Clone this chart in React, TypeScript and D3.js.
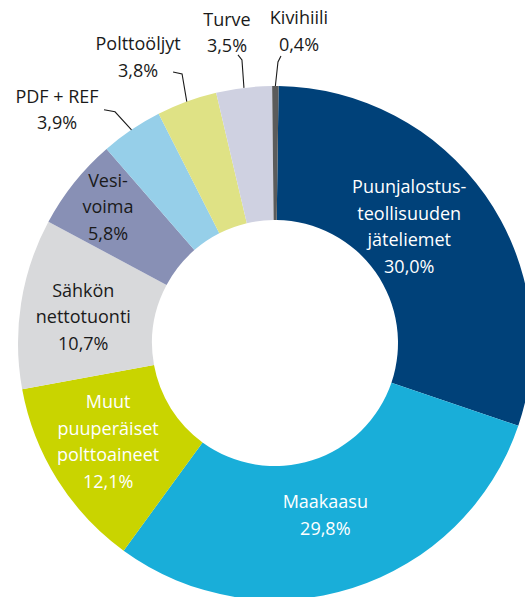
import React from "react";
import * as d3 from "d3";

const categories = [
  "Puunjalostusteollisuuden jäteliemet",
  "Maakaasu",
  "Muut puuperäiset polttoaineet",
  "Sähkön nettotuonti",
  "Vesivoima",
  "PDF + REF",
  "Polttoöljyt",
  "Turve",
  "Kivihiili",
];
const values = [30.0, 29.8, 12.1, 10.7, 5.8, 3.9, 3.8, 3.5, 0.4];
const labelLines = [
  ["Puunjalostus-", "teollisuuden", "jäteliemet"],
  ["Maakaasu"],
  ["Muut", "puuperäiset", "polttoaineet"],
  ["Sähkön", "nettotuonti"],
  ["Vesi-", "voima"],
  ["PDF + REF"],
  ["Polttoöljyt"],
  ["Turve"],
  ["Kivihiili"],
];
const colors = [
  "#004179",
  "#19aed9",
  "#c9d400",
  "#d8d9db",
  "#8890b5",
  "#96cfe9",
  "#dfe285",
  "#cfd1e1",
  "#5b5b5b",
];
const textColors = ["#fff", "#fff", "#fff", "#1a1a1a", "#1a1a1a", "#1a1a1a", "#1a1a1a", "#1a1a1a", "#1a1a1a"];

// layout (not data)
const W = 525;
const H = 597;
const CX = 275;
const CY = 343;
const R_OUT = 257;
const R_IN = 123;
const ANGLE_OFFSET = 0.014;
const FONT = "'Open Sans', sans-serif";
const FS = 18;
const LH = 26.5;

// inside labels: offset of text block centre from the arc centroid
const insideOffsets: Record<number, [number, number]> = {
  0: [-21, -7],
  1: [-7, -9],
  2: [-6, -2.6],
  3: [-4, 3.4],
  4: [-18.5, -17.5],
};
// outside labels: relative to outer arc point at mid angle
// [labelX, firstBaselineY, startX, startY, elbowX, elbowY]
const outsideLayout: Record<number, number[]> = {
  5: [-74.5, -27, -27.5, -20, -16.5, -18],
  6: [-48.7, -51.6, -13.7, -29.6, -4.7, -27.6],
  7: [-17, -62, -6, -33, -2, -28],
  8: [23.6, -62, 5.6, -30, 2.6, -24],
};

const fmt = (v: number) => v.toFixed(1).replace(".", ",") + "%";

export default function App() {
  const pie = d3
    .pie<number>()
    .sort(null)
    .value((d) => d)
    .startAngle(ANGLE_OFFSET)
    .endAngle(2 * Math.PI + ANGLE_OFFSET);
  const arcs = pie(values);
  const arc = d3.arc<d3.PieArcDatum<number>>().innerRadius(R_IN).outerRadius(R_OUT);
  const mid = d3.arc<d3.PieArcDatum<number>>().innerRadius(190).outerRadius(190);

  return (
    <svg
      width={W}
      height={H}
      style={{ position: "absolute", left: 0, top: 0, background: "#fff" }}
      fontFamily={FONT}
      fontSize={FS}
    >
      <g transform={`translate(${CX},${CY})`}>
        {arcs.map((a, i) => (
          <path key={i} d={arc(a) || ""} fill={colors[i]} />
        ))}
        {arcs.map((a, i) => {
          const lines = [...labelLines[i], fmt(values[i])];
          if (insideOffsets[i]) {
            const [cx, cy] = mid.centroid(a);
            const [dx, dy] = insideOffsets[i];
            const bx = cx + dx;
            const by = cy + dy;
            const n = lines.length;
            return (
              <text key={"t" + i} textAnchor="middle" fill={textColors[i]}>
                {lines.map((l, j) => (
                  <tspan key={j} x={bx} y={by + (j - (n - 1) / 2) * LH + 6.4}>
                    {l}
                  </tspan>
                ))}
              </text>
            );
          }
          const m = (a.startAngle + a.endAngle) / 2;
          const px = R_OUT * Math.sin(m);
          const py = -R_OUT * Math.cos(m);
          const [lx, ly, sx, sy, ex, ey] = outsideLayout[i];
          return (
            <g key={"t" + i}>
              <path
                d={`M${px + sx},${py + sy}L${px + ex},${py + ey}L${px},${py}`}
                fill="none"
                stroke="#1a1a1a"
                strokeWidth={1.1}
              />
              <text textAnchor="middle" fill={textColors[i]}>
                {lines.map((l, j) => (
                  <tspan key={j} x={px + lx} y={py + ly + j * LH}>
                    {l}
                  </tspan>
                ))}
              </text>
            </g>
          );
        })}
      </g>
    </svg>
  );
}
